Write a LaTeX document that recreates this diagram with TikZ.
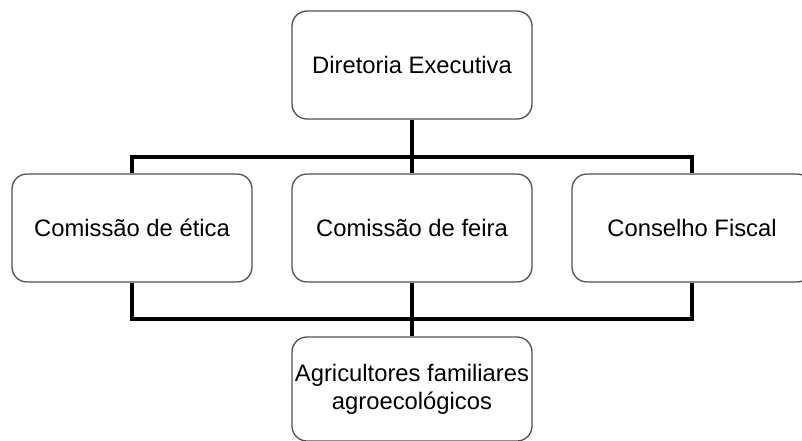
\documentclass[tikz,border=0pt]{standalone}
\usepackage{fontspec}
\setmainfont{Liberation Sans}
\usepackage{xcolor}
\usepackage{tikz}
\definecolor{boxgray}{RGB}{80, 80, 80}

\begin{document}
\begin{tikzpicture}[x=1pt,y=-1pt,
  orgbox/.style={draw=boxgray, line width=1.3pt, rounded corners=15pt, fill=white,
    minimum width=240pt, minimum height=108pt, inner sep=1pt, align=center,
    font=\fontsize{23.8}{28}\selectfont},
  bus/.style={line width=3.8pt}]
\useasboundingbox (0,0) rectangle (802,441);
\clip (0,0) rectangle (802,441);

\node[orgbox] (dir) at (412,65) {Diretoria Executiva};

\node[orgbox] (etica) at (132,228) {Comissão de ética};
\node[orgbox] (feira) at (412,228) {Comissão de feira};
\node[orgbox] (fiscal) at (692,228) {Conselho Fiscal};

\node[orgbox, minimum height=104pt] (agri) at (412,389) {Agricultores familiares\\agroecológicos};

% barras de ligacao
\coordinate (up) at (412,157);
\coordinate (down) at (412,319);
\draw[bus] (dir.south) -- (feira.north);
\draw[bus] (etica.north) |- (up) -| (fiscal.north);
\draw[bus] (etica.south) |- (down) -| (fiscal.south);
\draw[bus] (feira.south) -- (agri.north);
\end{tikzpicture}
\end{document}
